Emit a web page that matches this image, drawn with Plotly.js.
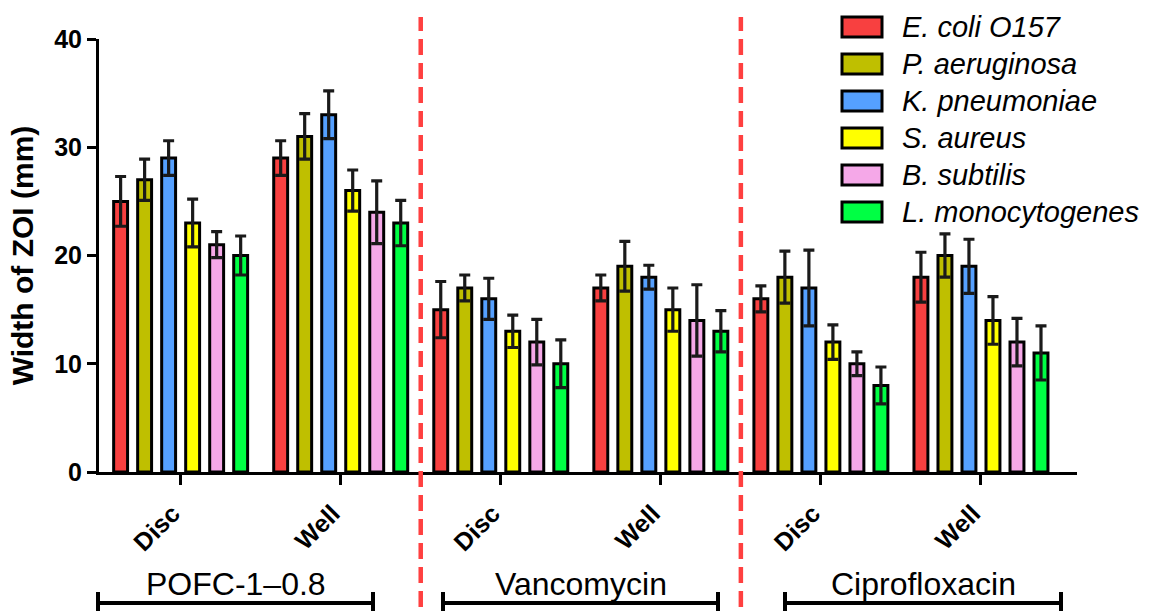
<!DOCTYPE html>
<html>
<head>
<meta charset="utf-8">
<script src="https://cdn.plot.ly/plotly-3.0.1.min.js"></script>
<style>html,body{margin:0;padding:0;background:#fff;}#chart{width:1158px;height:611px;}</style>
</head>
<body>
<div id="chart"></div>
<script>
// ---- data ----
const categories = ["POFC Disc", "POFC Well", "Vanco Disc", "Vanco Well", "Cipro Disc", "Cipro Well"];
const tickLabels = ["Disc", "Well", "Disc", "Well", "Disc", "Well"];
const groupLabels = ["POFC-1\u20130.8", "Vancomycin", "Ciprofloxacin"];
const seriesNames = ["E. coli O157", "P. aeruginosa", "K. pneumoniae", "S. aureus", "B. subtilis", "L. monocytogenes"];
const ecoli       = [25, 29, 15, 17, 16, 18];
const ecoliErr    = [2.3, 1.6, 2.6, 1.2, 1.2, 2.3];
const paer        = [27, 31, 17, 19, 18, 20];
const paerErr     = [1.9, 2.1, 1.2, 2.3, 2.4, 2.0];
const kpneu       = [29, 33, 16, 18, 17, 19];
const kpneuErr    = [1.6, 2.2, 1.9, 1.1, 3.5, 2.5];
const saureus     = [23, 26, 13, 15, 12, 14];
const saureusErr  = [2.2, 1.9, 1.5, 2.0, 1.6, 2.2];
const bsub        = [21, 24, 12, 14, 10, 12];
const bsubErr     = [1.2, 2.9, 2.1, 3.3, 1.1, 2.2];
const lmono       = [20, 23, 10, 13, 8, 11];
const lmonoErr    = [1.8, 2.1, 2.2, 1.9, 1.7, 2.5];

const values = [ecoli, paer, kpneu, saureus, bsub, lmono];
const errors = [ecoliErr, paerErr, kpneuErr, saureusErr, bsubErr, lmonoErr];
const colors = ["#f84040", "#bfbf00", "#55a0ff", "#ffff00", "#f5a8e8", "#00ff44"];

// ---- geometry helpers (pixel -> paper) ----
const W = 1158, H = 611;
const M = {l: 99, r: 81, t: 39, b: 139};
const pw = W - M.l - M.r, ph = H - M.t - M.b;
const px = x => (x - M.l) / pw;
const py = y => (H - M.b - y) / ph;

const FONT = "Arial, 'Liberation Sans', sans-serif";

const traces = seriesNames.map((name, i) => ({
  type: "bar",
  name: name,
  x: categories,
  y: values[i],
  marker: {color: colors[i], line: {color: "#000", width: 3}},
  error_y: {type: "data", array: errors[i], visible: true, color: "#1a1a1a", thickness: 3.2, width: 5.5},
  showlegend: false,
  hoverinfo: "x+y+name"
}));

const shapes = [];
const annotations = [];

// red dashed separators between drug groups
[1.5, 3.5].forEach(xv => {
  shapes.push({type: "line", xref: "x", yref: "paper", x0: xv, x1: xv,
    y0: py(607), y1: py(17), line: {color: "#ff4040", width: 4.5, dash: "16px,8px"}});
});

// bottom brackets with group labels
const bracketPx = [[98, 373], [443, 718], [785, 1061]];
bracketPx.forEach((b, i) => {
  shapes.push({type: "line", xref: "paper", yref: "paper", x0: px(b[0]), x1: px(b[1]), y0: py(603), y1: py(603), line: {color: "#000", width: 4}});
  shapes.push({type: "line", xref: "paper", yref: "paper", x0: px(b[0]), x1: px(b[0]), y0: py(592), y1: py(614), line: {color: "#000", width: 4}});
  shapes.push({type: "line", xref: "paper", yref: "paper", x0: px(b[1]), x1: px(b[1]), y0: py(592), y1: py(614), line: {color: "#000", width: 4}});
  annotations.push({xref: "paper", yref: "paper", x: px((b[0] + b[1]) / 2), y: py(584),
    text: groupLabels[i], showarrow: false, xanchor: "center", yanchor: "middle",
    font: {family: FONT, size: 32, color: "#000"}});
});

// custom legend
seriesNames.forEach((name, i) => {
  const cy = 27 + i * 37;
  shapes.push({type: "rect", xref: "paper", yref: "paper", x0: px(842), x1: px(882), y0: py(cy + 10), y1: py(cy - 10),
    fillcolor: colors[i], line: {color: "#000", width: 3}});
  annotations.push({xref: "paper", yref: "paper", x: px(900), y: py(cy), text: "<i>" + name + "</i>",
    showarrow: false, xanchor: "left", yanchor: "middle", font: {family: FONT, size: 29, color: "#000"}});
});

const layout = {
  width: W, height: H,
  margin: M,
  paper_bgcolor: "#fff", plot_bgcolor: "#fff",
  barmode: "group", bargap: 0.1, bargroupgap: 0.42,
  font: {family: FONT, color: "#000"},
  xaxis: {
    type: "category", range: [-0.51, 5.6],
    tickvals: categories, ticktext: tickLabels, tickangle: -45,
    tickfont: {family: FONT, size: 25, weight: "bold", color: "#000"},
    ticklabelshift: -8, ticklabelstandoff: 4,
    showline: true, linecolor: "#000", linewidth: 3,
    ticks: "outside", ticklen: 10, tickwidth: 3, tickcolor: "#000",
    showgrid: false, zeroline: false, fixedrange: true
  },
  yaxis: {
    range: [0, 40], tickvals: [0, 10, 20, 30, 40],
    tickfont: {family: FONT, size: 25, weight: "bold", color: "#000"},
    showline: true, linecolor: "#000", linewidth: 3,
    ticks: "outside", ticklen: 9, tickwidth: 3, tickcolor: "#000",
    showgrid: false, zeroline: false,
    title: {text: "Width of ZOI (mm)", font: {family: FONT, size: 30, weight: "bold", color: "#000"}, standoff: 12}
  },
  shapes: shapes,
  annotations: annotations
};

Plotly.newPlot("chart", traces, layout, {displayModeBar: false, staticPlot: true});
</script>
</body>
</html>
